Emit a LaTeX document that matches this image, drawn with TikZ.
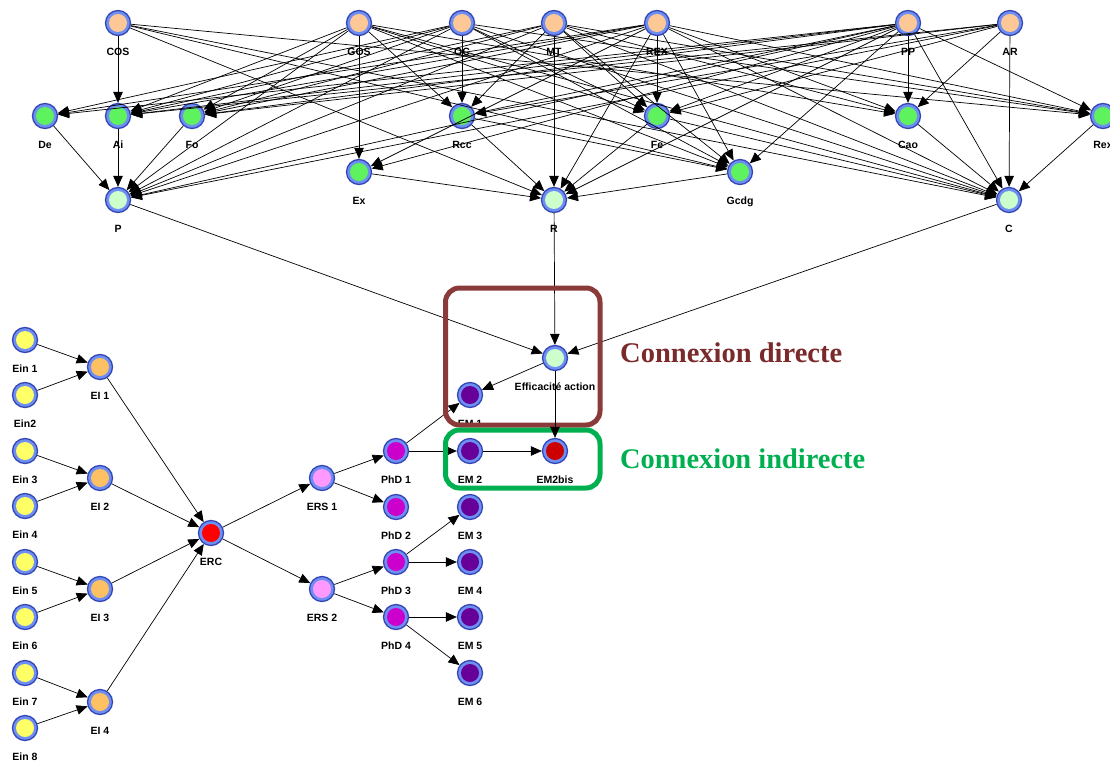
\documentclass[tikz,border=0pt]{standalone}
\usepackage{graphicx}
\usepackage{fontspec}
\setmainfont{Liberation Sans}
\newfontfamily\serifb{Liberation Serif}
\usetikzlibrary{arrows.meta}
\definecolor{ringc}{HTML}{6E8EF2}
\definecolor{bordc}{HTML}{3447B5}
\definecolor{peach}{HTML}{FDC896}
\definecolor{grn}{HTML}{5EF25E}
\definecolor{lgrn}{HTML}{CCFFCC}
\definecolor{yel}{HTML}{FFFF66}
\definecolor{ora}{HTML}{FDC062}
\definecolor{redc}{HTML}{FF0000}
\definecolor{pinkc}{HTML}{FF99FF}
\definecolor{mag}{HTML}{CC00CC}
\definecolor{purp}{HTML}{660099}
\definecolor{dred}{HTML}{CC0000}
\definecolor{brn}{HTML}{8B3A3A}
\definecolor{brntxt}{HTML}{7A2A2A}
\definecolor{grbox}{HTML}{00B050}
\tikzset{
  nd/.style={circle, draw=bordc, fill=ringc, line width=1.3pt, minimum size=25pt, inner sep=0pt,
    path picture={\fill[#1] (path picture bounding box.center) circle (9pt);}},
  lb/.style={font=\bfseries\fontsize{10.5}{11}\selectfont, inner sep=0pt, text height=7.5pt, text depth=2pt, label distance=11.5pt},
  ed/.style={-{Triangle[length=11pt,width=9.5pt]}, line width=0.7pt, black},
  boxs/.style={line width=5pt, rounded corners=14pt},
}
\begin{document}
\begin{tikzpicture}[x=1pt,y=-1pt]
\useasboundingbox (0,0) rectangle (1110,762);
% top sources
\foreach \n/\x in {COS/118,GOS/359,OC/462,MT/554,REX/657,PP/908,AR/1010}
  \node[nd=peach, label={[lb]below:\n}] (\n) at (\x,23) {};
% second row
\foreach \n/\x in {De/45,Ai/118,Fo/192,Rcc/462,Fe/657,Cao/908,Rex/1103}
  \node[nd=grn, label={[lb]below:\n}] (\n) at (\x,116) {};
\node[nd=grn, label={[lb]below:Ex}] (Ex) at (359,172) {};
\node[nd=grn, label={[lb]below:Gcdg}] (Gcdg) at (740,172) {};
\foreach \n/\x in {P/118,R/554,C/1009}
  \node[nd=lgrn, label={[lb]below:\n}] (\n) at (\x,200) {};
\node[nd=lgrn, label={[lb]below:Efficacité action}] (EA) at (555,358) {};
% bottom-left
\foreach \i/\y in {1/340,3/451,4/506,5/562,6/617,7/673,8/728}
  \node[nd=yel, label={[lb]below:Ein \i}] (Ein\i) at (25,\y) {};
\node[nd=yel, label={[lb]below:Ein2}] (Ein2) at (25,395) {};
\foreach \i/\y in {1/367,2/478,3/589,4/702}
  \node[nd=ora, label={[lb]below:EI \i}] (EI\i) at (100,\y) {};
\node[nd=redc, label={[lb]below:ERC}] (ERC) at (211,533) {};
\node[nd=pinkc, label={[lb]below:ERS 1}] (ERS1) at (322,478) {};
\node[nd=pinkc, label={[lb]below:ERS 2}] (ERS2) at (322,589) {};
\foreach \i/\y in {1/451,2/507,3/562,4/617}
  \node[nd=mag, label={[lb]below:PhD \i}] (PhD\i) at (396,\y) {};
\foreach \i/\y in {1/395,2/451,3/507,4/562,5/617,6/673}
  \node[nd=purp, label={[lb]below:EM \i}] (EM\i) at (470,\y) {};
\node[nd=dred, label={[lb]below:EM2bis}] (EM2bis) at (555,451) {};
% top edges
\foreach \s/\t in {COS/Ai,COS/R,COS/Gcdg,COS/C,COS/Rex,
  GOS/Ex,GOS/Rcc,GOS/P,GOS/Fo,GOS/Ai,GOS/Fe,GOS/Gcdg,GOS/C,GOS/Cao,
  OC/Rcc,OC/P,OC/Fo,OC/Ai,OC/De,OC/Fe,OC/Gcdg,OC/Rex,OC/C,
  MT/R,MT/Rcc,MT/Fe,MT/Gcdg,MT/P,MT/Fo,MT/Ai,MT/Cao,MT/Rex,MT/C,
  REX/Fe,REX/R,REX/Gcdg,REX/Ex,REX/P,REX/Fo,REX/Ai,REX/De,REX/Cao,REX/Rex,REX/C,
  PP/Cao,PP/Gcdg,PP/C,PP/Rex,PP/P,PP/Ai,PP/Fo,PP/De,PP/Rcc,PP/Fe,PP/R,PP/Ex,
  AR/C,AR/Cao,AR/Fe,AR/Fo,AR/Ai,AR/P,AR/Rcc,
  De/P,Ai/P,Fo/P,Rcc/R,Ex/R,Fe/R,Gcdg/R,Rcc/Gcdg,Fe/C,Cao/C,Rex/C,
  P/EA,R/EA,C/EA,EA/EM1}
  \draw[ed] (\s) -- (\t);
% bottom edges
\foreach \s/\t in {Ein1/EI1,Ein2/EI1,Ein3/EI2,Ein4/EI2,Ein5/EI3,Ein6/EI3,Ein7/EI4,Ein8/EI4,
  EI1/ERC,EI2/ERC,EI3/ERC,EI4/ERC,ERC/ERS1,ERC/ERS2,
  ERS1/PhD1,ERS1/PhD2,ERS2/PhD3,ERS2/PhD4,
  PhD1/EM1,PhD1/EM2,PhD3/EM3,PhD3/EM4,PhD4/EM5,PhD4/EM6,EM2/EM2bis}
  \draw[ed] (\s) -- (\t);
% boxes
\draw[boxs, brn] (445.5,288) rectangle (600,425);
\draw[boxs, grbox] (445.5,430) rectangle (600,488);
\draw[ed] (EA) -- (EM2bis);
% texts
\node[anchor=base west, text=brntxt, inner sep=0pt] (cd) at (620,362)
  {\resizebox{222pt}{!}{\serifb\bfseries Connexion directe}};
\node[anchor=base west, text=grbox, inner sep=0pt] (ci) at (620,468)
  {\resizebox{245pt}{!}{\serifb\bfseries Connexion indirecte}};
\end{tikzpicture}
\end{document}
